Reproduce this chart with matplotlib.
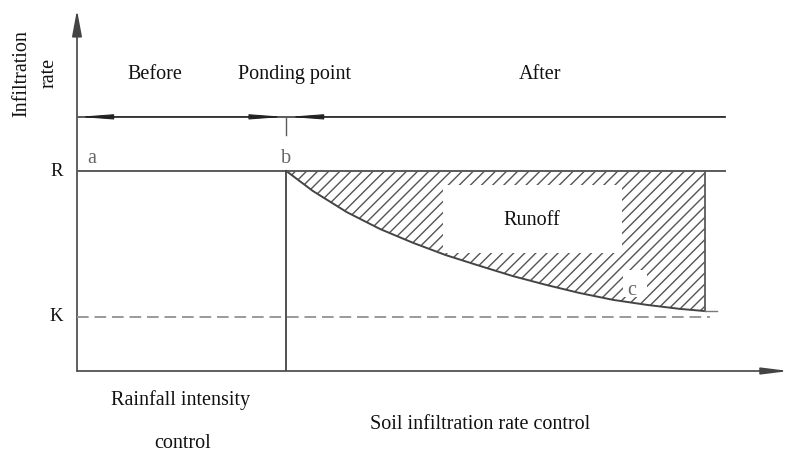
import matplotlib
matplotlib.use("Agg")
import matplotlib.pyplot as plt
from matplotlib.patches import Rectangle

# ---- data (schematic values) ----
rain_rate_R = 5.54          # rainfall intensity level R
final_rate_K = 1.50         # steady infiltration level K
ponding_time = 2.94         # ponding point b
end_time = 8.82             # end of runoff
top_level = 7.04            # level of the phase arrows
line_end = 9.1
k_end = 8.89

curve_t = [2.94, 3.31, 3.79, 4.26, 4.72, 5.18, 5.66, 6.12, 6.60, 7.06, 7.53, 8.01, 8.47, 8.82]
curve_f = [5.54, 4.99, 4.40, 3.93, 3.55, 3.21, 2.91, 2.63, 2.38, 2.16, 1.97, 1.83, 1.72, 1.66]

phase_labels = ["Before", "Ponding point", "After"]
phase_x = [1.10, 3.06, 6.50]

plt.rcParams['font.family'] = ['Liberation Serif', 'DejaVu Serif']
plt.rcParams['hatch.linewidth'] = 1.0

fig = plt.figure(figsize=(7.89, 4.55), dpi=100)
W, H = 789, 455
ax = fig.add_axes([77 / W, (H - 371) / H, (789 - 77) / W, (371 - 10) / H])
ax.set_xlim(0, 10)
ax.set_ylim(0, 10)
ax.axis('off')

lc = '#5a5a5a'
ac = '#7a7a7a'

# axes with arrows
ax.annotate('', xy=(0, 10), xytext=(0, 0), annotation_clip=False,
            arrowprops=dict(arrowstyle='-|>,head_length=1.6,head_width=0.3', color='#444', lw=1.2,
                            shrinkA=0, shrinkB=0))
ax.annotate('', xy=(10, 0), xytext=(0, 0), annotation_clip=False,
            arrowprops=dict(arrowstyle='-|>,head_length=1.6,head_width=0.2', color='#444', lw=1.2,
                            shrinkA=0, shrinkB=0))

# hatched runoff area
ax.fill_between(curve_t, curve_f, [rain_rate_R] * len(curve_t), facecolor='white',
                edgecolor='#555555', hatch='///', linewidth=0)
# white label boxes over the hatch
ax.add_patch(Rectangle((5.14, 3.27), 7.65 - 5.14, 5.15 - 3.27, facecolor='white', edgecolor='none', zorder=2))
ax.add_patch(Rectangle((7.67, 2.05), 8.01 - 7.67, 2.80 - 2.05, facecolor='white', edgecolor='none', zorder=2))

# curve and lines
ax.plot(curve_t, curve_f, color='#444', lw=1.4, zorder=3)
ax.plot([0, line_end], [rain_rate_R, rain_rate_R], color=lc, lw=1.4, zorder=3)
ax.plot([0, line_end], [top_level, top_level], color=lc, lw=1.4, zorder=3)
ax.plot([ponding_time, ponding_time], [0, rain_rate_R], color='#444', lw=1.3, zorder=3)
ax.plot([end_time, end_time], [curve_f[-1], rain_rate_R], color=lc, lw=1.3, zorder=3)
ax.plot([end_time, 8.99], [curve_f[-1], curve_f[-1]], color=ac, lw=1.0, zorder=3)
ax.plot([0, k_end], [final_rate_K, final_rate_K], color='#9a9a9a', lw=1.4, ls=(0, (6, 3)), zorder=3)
ax.plot([ponding_time, ponding_time], [top_level, 6.54], color=lc, lw=1.0, zorder=3)

# phase arrows on top line
ax.annotate('', xy=(0.02, top_level), xytext=(ponding_time - 0.03, top_level),
            arrowprops=dict(arrowstyle='<|-|>,head_length=2.0,head_width=0.15', color='#222', lw=0.8,
                            shrinkA=0, shrinkB=0))
ax.annotate('', xy=(ponding_time + 0.03, top_level), xytext=(line_end, top_level),
            arrowprops=dict(arrowstyle='-|>,head_length=2.0,head_width=0.15', color='#222', lw=0.8,
                            shrinkA=0, shrinkB=0))

fs = 14.5
for lab, x in zip(phase_labels, phase_x):
    ax.text(x, 8.20, lab, ha='center', va='center', fontsize=fs, color='#111')

ax.text(-0.58, 8.25, "Infiltration\nrate", rotation=90, ha='center', va='center',
        fontsize=fs, color='#111', linespacing=1.6)
ax.text(-0.29, rain_rate_R, "R", ha='center', va='center', fontsize=13.5, color='#111')
ax.text(-0.29, final_rate_K, "K", ha='center', va='center', fontsize=13.5, color='#111')
ax.text(0.21, 5.90, "a", ha='center', va='center', fontsize=fs, color='#666')
ax.text(2.94, 5.90, "b", ha='center', va='center', fontsize=fs, color='#666')
ax.text(7.79, 2.24, "c", ha='center', va='center', fontsize=fs, color='#666', zorder=4)
ax.text(6.39, 4.18, "Runoff", ha='center', va='center', fontsize=fs, color='#111', zorder=4)

ax.text(1.45, -0.80, "Rainfall intensity", ha='center', va='center', fontsize=fs, color='#111')
ax.text(1.49, -2.00, "control", ha='center', va='center', fontsize=fs, color='#111')
ax.text(5.66, -1.47, "Soil infiltration rate control", ha='center', va='center', fontsize=fs, color='#111')

fig.savefig("out.png", dpi=100)
